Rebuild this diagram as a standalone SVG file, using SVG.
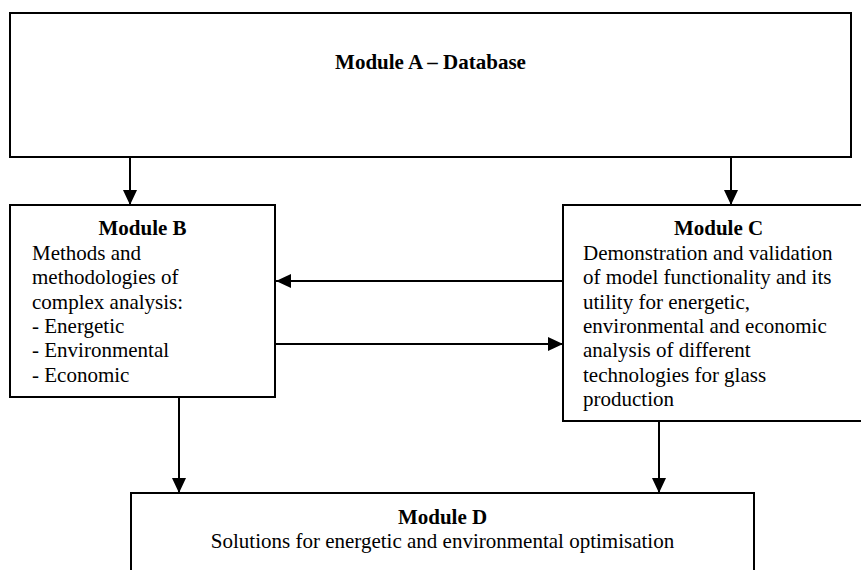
<svg xmlns="http://www.w3.org/2000/svg" width="861" height="570" viewBox="0 0 861 570">
<style>
.box{fill:#fff;stroke:#000;stroke-width:2}
.t{font-family:"Liberation Serif","Times New Roman",serif;font-size:21px;fill:#000}
.b{font-weight:bold}
.c{text-anchor:middle}
.ln{stroke:#000;stroke-width:2;fill:none}
</style>
<defs>
<marker id="ah" markerUnits="userSpaceOnUse" markerWidth="16" markerHeight="14" refX="15" refY="7" orient="auto" viewBox="0 0 16 14">
<path d="M0,0 L15,7 L0,14 z" fill="#000"/>
</marker>
</defs>
<rect width="861" height="570" fill="#fff"/>
<g id="moduleA">
<rect class="box" x="10" y="13" width="841" height="144"/>
<text class="t b c" x="430.5" y="69">Module A – Database</text>
</g>
<g id="moduleB">
<rect class="box" x="10" y="205" width="265" height="192"/>
<text class="t b c" x="142.5" y="235">Module B</text>
<text class="t" x="32" y="259.5">Methods and</text>
<text class="t" x="32" y="284">methodologies of</text>
<text class="t" x="32" y="308.5">complex analysis:</text>
<text class="t" x="32" y="333">- Energetic</text>
<text class="t" x="32" y="357">- Environmental</text>
<text class="t" x="32" y="381.5">- Economic</text>
</g>
<g id="moduleC">
<rect class="box" x="563" y="205" width="311" height="216"/>
<text class="t b c" x="718.5" y="235">Module C</text>
<text class="t" x="583" y="259.5">Demonstration and validation</text>
<text class="t" x="583" y="284">of model functionality and its</text>
<text class="t" x="583" y="308.5">utility for energetic,</text>
<text class="t" x="583" y="333">environmental and economic</text>
<text class="t" x="583" y="357">analysis of different</text>
<text class="t" x="583" y="381.5">technologies for glass</text>
<text class="t" x="583" y="406">production</text>
</g>
<g id="moduleD">
<rect class="box" x="131" y="493" width="623" height="100"/>
<text class="t b c" x="442.5" y="524">Module D</text>
<text class="t c" x="442.5" y="548">Solutions for energetic and environmental optimisation</text>
</g>
<g id="connectors">
<line class="ln" x1="130" y1="157" x2="130" y2="205" marker-end="url(#ah)"/>
<line class="ln" x1="731" y1="157" x2="731" y2="205" marker-end="url(#ah)"/>
<line class="ln" x1="563" y1="281" x2="276" y2="281" marker-end="url(#ah)"/>
<line class="ln" x1="275" y1="344" x2="563" y2="344" marker-end="url(#ah)"/>
<line class="ln" x1="179" y1="397" x2="179" y2="493" marker-end="url(#ah)"/>
<line class="ln" x1="659" y1="421" x2="659" y2="493" marker-end="url(#ah)"/>
</g>
</svg>
